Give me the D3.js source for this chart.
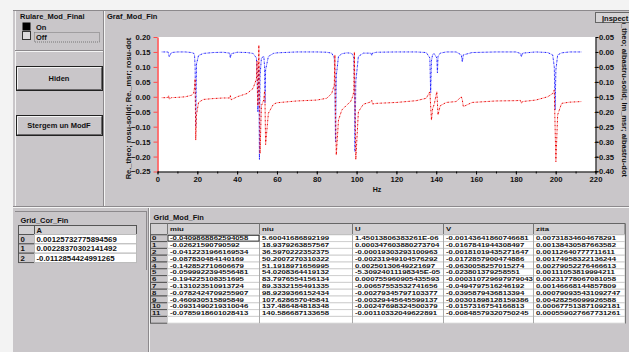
<!DOCTYPE html>
<html>
<head>
<meta charset="utf-8">
<script src="https://cdn.jsdelivr.net/npm/d3@7"></script>
<style>
  body { margin: 0; background: #fff; }
  svg { display: block; font-family: "Liberation Sans", Arial, sans-serif; }
  text { font-weight: bold; fill: #111; }
</style>
</head>
<body>
<svg id="panel" width="629" height="352"></svg>
<script>
var hz = [2, 4, 5.3, 5.6, 5.9, 7, 10, 14, 17, 18.1, 18.6, 18.9, 19.2, 19.6, 20.6, 23, 28, 33, 36.2, 36.6, 37, 40, 45, 48,
          49.7, 50.0, 50.4, 50.9, 51.2, 51.5, 52.2, 53.4, 53.8, 54.0, 54.3, 55.7, 58.2, 60, 70, 80, 85, 87.5, 88.8, 89.1,
          89.4, 89.8, 90.9, 92.6, 95, 97, 98, 98.6, 98.9, 99.2, 99.6, 100.9, 103.4, 107.2, 107.6, 108, 110, 120, 130, 135,
          136.8, 137.2, 137.6, 138.2, 139, 140.3, 140.6, 140.9, 142, 145, 150, 152.6, 153.1, 153.6, 158, 170, 180, 182.3,
          182.8, 183.3, 190, 196, 198.5, 199.3, 199.7, 200.1, 201, 203, 207, 213];

// real part, left axis (red)
var reMsr = [-0.003, -0.003, -0.002, 0.004, -0.008, -0.003, -0.002, 0.0, 0.005, 0.011, 0.03, 0.06, -0.145, -0.06, -0.019,
             -0.009, -0.006, -0.004, -0.004, 0.004, -0.01, 0.0, 0.011, 0.028,
             0.06, 0.12, -0.03, 0.173, 0.02, -0.19, -0.03, -0.01, 0.02, -0.02, -0.16, -0.055, -0.025, -0.02, -0.014, -0.011,
             -0.005, 0.011, 0.04, 0.14, -0.05, -0.195, -0.078, -0.044, -0.028, -0.016, 0.0, 0.017, 0.15, -0.03, -0.21,
             -0.05, -0.025, -0.017, -0.012, -0.024, -0.022, -0.019, -0.013, -0.005,
             0.017, -0.03, -0.078, -0.04, -0.025, 0.017, -0.02, -0.061, -0.03, -0.019, -0.016, 0.0, -0.01, -0.033, -0.019,
             -0.014, -0.013, -0.012, -0.022, -0.016, -0.011, 0.0, 0.011, 0.023, -0.10, -0.217, -0.06, -0.022, -0.018, -0.016];

// imaginary part, right axis (blue)
var imMsr = [0.0, 0.0, 0.0, -0.008, -0.016, -0.002, 0.0, 0.0, -0.002, -0.004, -0.01, -0.05, -0.25, -0.04, -0.012,
             -0.005, -0.002, -0.001, -0.004, -0.02, -0.006, -0.001, -0.002, -0.005,
             -0.02, -0.08, -0.20, -0.05, -0.36, -0.08, -0.02, -0.015, -0.05, -0.17, -0.06, -0.015, -0.005, -0.003, 0.0, 0.0,
             -0.001, -0.004, -0.02, -0.1, -0.30, -0.08, -0.015, -0.006, -0.003, -0.004, -0.008, -0.02, -0.1, -0.334, -0.1,
             -0.015, -0.004, -0.004, -0.012, -0.004, -0.001, 0.0, 0.0, -0.002,
             -0.02, -0.137, -0.03, -0.008, -0.006, -0.02, -0.07, -0.015, -0.004, 0.0, 0.0, -0.01, -0.033, -0.01, -0.002,
             0.0, 0.0, -0.005, -0.016, -0.004, 0.0, -0.002, -0.01, -0.05, -0.194, -0.06, -0.01, -0.003, 0.0, 0.0];

var corA = ["0.00125732775894569", "0.00228370302141492", "-0.0112854424991265"];

var modCols = ["miu", "niu", "U", "V", "zita"];
var miu  = ["-0.0409868862594058", "-0.02621590790592", "-0.0412231966169534", "-0.087830484140169",
            "-0.142852710606679", "-0.0599922394556481", "-0.194225108351695", "-0.131023510913724",
            "-0.0782424709255907", "-0.460930515895849", "-0.0931490219310046", "-0.0785918601028413"];
var niu  = ["5.60041686892199", "18.9379263857567", "36.5970222352375", "50.2007270310322",
            "51.1918971656995", "54.0208364419132", "83.7976554156134", "89.3332155491335",
            "98.9239366152434", "107.628657045841", "137.486484818348", "140.586687133658"];
var colU = ["1.45013806383261E-06", "0.000347603880273704", "-0.00019303293100963", "-0.00231949104576292",
            "0.00250130649221697", "-5.30924011198345E-05", "0.000755960905435593", "-0.00657553532741656",
            "-0.00279345797103377", "-0.00329445645599137", "-0.00247698324500379", "-0.00110332049622891"];
var colV = ["-0.00143641860746681", "-0.0167841944308497", "-0.00181019435271647", "-0.0172857900474886",
            "-0.0630058257015274", "-0.023801379258551", "-0.000310729697979043", "-0.0494797516246192",
            "-0.0395879436813394", "-0.00301898128159386", "-0.0157316754166813", "-0.00848579320750245"];
var zita = ["0.00731834604678291", "0.00138430587663582", "0.00112640777711611", "0.00174958322136244",
            "0.00279052276466613", "0.00111053819994211", "0.00231778067081058", "0.00146668144857809",
            "0.000790935431092747", "0.00428256099926588", "0.000677513871092181", "0.000559027667731261"];

var GRAY = "#c9c6c9", DARK = "#8c898c", LIGHT = "#f4f4f4";

var svg = d3.select("#panel");

// window background
svg.append("rect").attr("x", 0).attr("y", 0).attr("width", 629).attr("height", 352).attr("fill", "#f3f3f3");
svg.append("rect").attr("x", 13).attr("y", 10).attr("width", 616).attr("height", 342).attr("fill", GRAY);

function hline(x1, x2, y, c) {
  svg.append("line").attr("x1", x1).attr("x2", x2).attr("y1", y).attr("y2", y).attr("stroke", c);
}
function vline(x, y1, y2, c) {
  svg.append("line").attr("x1", x).attr("x2", x).attr("y1", y1).attr("y2", y2).attr("stroke", c);
}
function label(x, y, s, size, anchor) {
  return svg.append("text").attr("x", x).attr("y", y).attr("font-size", size || 7.5)
            .attr("text-anchor", anchor || "start").text(s);
}
// the Grid_Mod_Fin rows are squeezed, so the text is drawn short and stretched sideways
function cellText(x, y, s) {
  return svg.append("text").attr("transform", "translate(" + x + "," + y + ") scale(1.3,1)")
            .attr("font-size", 6).text(s);
}
function button(x, y, w, h, s) {
  svg.append("rect").attr("x", x + 0.5).attr("y", y + 0.5).attr("width", w).attr("height", h)
     .attr("fill", GRAY).attr("stroke", "#222");
  hline(x + 1.5, x + w - 1, y + 1.5, LIGHT);
  vline(x + 1.5, y + 1.5, y + h - 1, LIGHT);
  hline(x + 1.5, x + w - 0.5, y + h - 0.5, "#6a686a");
  vline(x + w - 0.5, y + 1.5, y + h - 0.5, "#6a686a");
  label(x + w / 2, y + h / 2 + 2.8, s, 7.5, "middle");
}

// panel separators
hline(13, 629, 10.5, DARK);
vline(15.5, 11, 206, LIGHT);
vline(103.5, 11, 206, DARK);
vline(104.5, 11, 206, LIGHT);
hline(15, 103, 50.5, DARK);
hline(15, 103, 51.5, LIGHT);
hline(13, 629, 206.5, DARK);
hline(13, 629, 207.5, LIGHT);
vline(148.5, 208, 352, DARK);
vline(149.5, 208, 352, LIGHT);

// Rulare_Mod_Final toggle
label(20, 19, "Rulare_Mod_Final");
svg.append("rect").attr("x", 22.5).attr("y", 22.5).attr("width", 8).attr("height", 8).attr("fill", "#000");
svg.append("rect").attr("x", 22.5).attr("y", 31.5).attr("width", 8).attr("height", 8)
   .attr("fill", "#dcdadc").attr("stroke", "#333");
label(36, 29.5, "On");
label(36, 40, "Off");
svg.append("rect").attr("x", 34.5).attr("y", 32.5).attr("width", 65).attr("height", 9.5)
   .attr("fill", "none").attr("stroke", "#777").attr("stroke-dasharray", "1,1");

button(16, 66, 86, 24, "Hiden");
button(16, 115, 86, 20, "Stergem un ModF");

// ---- graph ----
label(107, 19, "Graf_Mod_Fin");

var x  = d3.scaleLinear().domain([0, 220]).range([157.5, 595.5]);
var yL = d3.scaleLinear().domain([-0.25, 0.2]).range([171.5, 37]);
var yR = d3.scaleLinear().domain([-0.4, 0.05]).range([171.5, 37]);

svg.append("rect").attr("x", 157.5).attr("y", 37).attr("width", 438).attr("height", 134.5).attr("fill", "#fff");

svg.append("clipPath").attr("id", "plotClip")
   .append("rect").attr("x", 158).attr("y", 37).attr("width", 437.5).attr("height", 134);
svg.append("clipPath").attr("id", "graphClip")
   .append("rect").attr("x", 105).attr("y", 11).attr("width", 524).attr("height", 195);

var pts = hz.map(function(f, i) { return {f: f, re: reMsr[i], im: imMsr[i]}; });

var lineIm = d3.line().x(function(d) { return x(d.f); }).y(function(d) { return yR(d.im); });
var lineRe = d3.line().x(function(d) { return x(d.f); }).y(function(d) { return yL(d.re); });

var plot = svg.append("g").attr("clip-path", "url(#plotClip)");

// solid (theo) drawn light, dotted (msr) drawn dark over it
[["#9a9aff", "#1a1aff", lineIm], ["#ffa4a4", "#e80000", lineRe]].forEach(function(s) {
  plot.append("path").datum(pts).attr("d", s[2]).attr("fill", "none")
      .attr("stroke", s[0]).attr("stroke-width", 1).attr("stroke-dasharray", "2,2");
  plot.append("path").datum(pts).attr("d", s[2]).attr("fill", "none")
      .attr("stroke", s[1]).attr("stroke-width", 1).attr("stroke-dasharray", "1.5,2.5").attr("stroke-dashoffset", 2);
});

var fmt = d3.format(".2f");

var axL = svg.append("g").attr("transform", "translate(157.5,0)")
             .call(d3.axisLeft(yL).ticks(10).tickSize(4).tickSizeOuter(0).tickFormat(fmt));
axL.select(".domain").attr("stroke", "#ff4a4a").attr("stroke-width", 1.5);
axL.selectAll(".tick line").attr("stroke", "#ff4a4a");

var axR = svg.append("g").attr("transform", "translate(595.5,0)")
             .call(d3.axisRight(yR).ticks(10).tickSize(3).tickSizeOuter(0).tickFormat(fmt));
axR.selectAll(".tick text").attr("text-anchor", "end").attr("x", 18.5);

var axX = svg.append("g").attr("transform", "translate(0,171.5)")
             .call(d3.axisBottom(x).ticks(11).tickSize(3).tickSizeOuter(0));
svg.append("g").attr("transform", "translate(0,171.5)")
   .call(d3.axisBottom(x).ticks(22).tickSize(2).tickSizeOuter(0).tickFormat(""))
   .select(".domain").remove();

svg.selectAll(".tick text").attr("font-size", 7.7).attr("font-family", "Liberation Sans, Arial, sans-serif")
   .style("font-weight", "bold").attr("fill", "#111");
axX.selectAll(".tick text").attr("y", 5);

label(377, 192, "Hz", 7, "middle");

svg.append("text").attr("transform", "translate(130.5,108.5) rotate(-90)")
   .attr("font-size", 7.5).attr("text-anchor", "middle")
   .text("Re._theo; rosu-solid; Re._msr; rosu-dot");

svg.append("g").attr("clip-path", "url(#graphClip)")
   .append("text").attr("transform", "translate(621.5,177) rotate(90)")
   .attr("font-size", 7.5).attr("text-anchor", "end")
   .text("Im_theo; albastru-solid; Im_msr; albastru-dot");

// Inspect button
svg.append("rect").attr("x", 595.5).attr("y", 12.5).attr("width", 40).attr("height", 10)
   .attr("fill", "#d6d4d6").attr("stroke", "#666");
svg.append("text").attr("x", 602).attr("y", 20.5).attr("font-size", 7.5)
   .call(function(t) {
     t.append("tspan").attr("text-decoration", "underline").text("I");
     t.append("tspan").text("nspect");
   });

// ---- Grid_Cor_Fin ----
label(20.5, 222.5, "Grid_Cor_Fin");
hline(15, 147, 211.5, DARK);
vline(146.5, 212, 270, DARK);

var corX = [18.5, 34.5, 136.5], corTop = 234.5, corH = 9.35;
svg.append("rect").attr("x", corX[0]).attr("y", 225.5).attr("width", corX[1] - corX[0]).attr("height", 9)
   .attr("fill", "#d2d0d2").attr("stroke", "#555");
svg.append("rect").attr("x", corX[1]).attr("y", 225.5).attr("width", corX[2] - corX[1]).attr("height", 9)
   .attr("fill", "#d2d0d2").attr("stroke", "#555");
label(corX[1] + 2, 232.5, "A", 7.5);

corA.forEach(function(v, i) {
  var y = corTop + i * corH;
  svg.append("rect").attr("x", corX[0]).attr("y", y).attr("width", corX[1] - corX[0]).attr("height", corH)
     .attr("fill", GRAY).attr("stroke", "#555");
  svg.append("rect").attr("x", corX[1]).attr("y", y).attr("width", corX[2] - corX[1]).attr("height", corH)
     .attr("fill", "#fff").attr("stroke", "#bbb");
  label(corX[0] + 2, y + corH / 2 + 2.8, String(i), 7.8);
  label(corX[1] + 2, y + corH / 2 + 2.8, v, 7.8);
});

// ---- Grid_Mod_Fin ----
label(153.5, 219.5, "Grid_Mod_Fin");

var modX = [150.5, 167.5, 259.5, 352.5, 443.5, 533.5, 625];
var modTop = 234.8, modH = 6.8;
var modData = miu.map(function(m, i) { return [m, niu[i], colU[i], colV[i], zita[i]]; });

svg.append("rect").attr("x", modX[0]).attr("y", 223.5).attr("width", modX[6] - modX[0]).attr("height", modTop - 223.5)
   .attr("fill", "#d2d0d2").attr("stroke", "#666");
modX.slice(1, 6).forEach(function(cx) { vline(cx, 223.5, modTop, "#777"); });
modCols.forEach(function(c, j) { cellText(modX[j + 1] + 2.5, 231.3, c); });

d3.range(modData.length + 1).forEach(function(i) {
  var y = modTop + i * modH;
  svg.append("rect").attr("x", modX[0]).attr("y", y).attr("width", modX[1] - modX[0]).attr("height", modH)
     .attr("fill", GRAY).attr("stroke", "#555");
  svg.append("rect").attr("x", modX[1]).attr("y", y).attr("width", modX[6] - modX[1]).attr("height", modH)
     .attr("fill", "#fff").attr("stroke", "#d0d0d0");
});
modX.slice(2, 6).forEach(function(cx) { vline(cx, modTop, modTop + (modData.length + 1) * modH, "#aaa"); });

modData.forEach(function(row, i) {
  var yb = modTop + i * modH + modH / 2 + 2.2;
  cellText(modX[0] + 1.5, yb, String(i));
  row.forEach(function(v, j) { cellText(modX[j + 1] + 2.5, yb, v); });
});

// selected cell frame
svg.append("rect").attr("x", modX[1] + 0.5).attr("y", modTop + 0.5).attr("width", modX[2] - modX[1] - 1)
   .attr("height", modH - 1).attr("fill", "none").attr("stroke", "#333");

// scrollbar strip
svg.append("rect").attr("x", 625).attr("y", 223.5).attr("width", 4).attr("height", 100).attr("fill", GRAY);
vline(625.5, 223.5, 323.5, "#777");
</script>
</body>
</html>
